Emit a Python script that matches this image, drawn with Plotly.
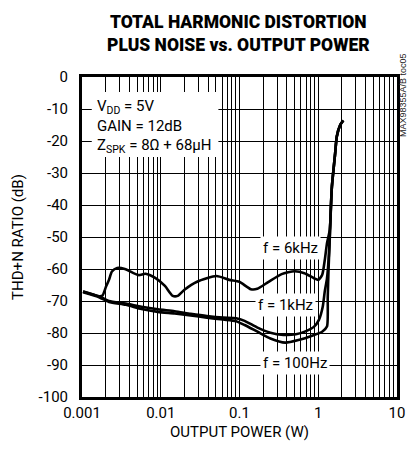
import plotly.graph_objects as go

# ---- data ----
p_6k = [0.00103, 0.00167, 0.00182, 0.00202, 0.0022, 0.0024, 0.0028, 0.0035, 0.0052, 0.0064,
        0.0085, 0.0113, 0.0142, 0.0164, 0.020, 0.0289, 0.051, 0.074, 0.0995, 0.139,
        0.168, 0.234, 0.343, 0.50, 0.667, 0.886, 1.0, 1.12, 1.21, 1.29,
        1.40, 1.49, 1.64, 1.72, 1.90, 2.08]
thd_6k = [-67.0, -68.5, -68.3, -65.5, -63.4, -60.8, -59.7, -60.0, -61.9, -61.5,
          -62.8, -65.3, -68.4, -68.4, -66.5, -64.0, -62.2, -63.4, -64.0, -66.3,
          -66.2, -64.0, -61.6, -60.7, -61.3, -62.9, -63.4, -61.9, -57.2, -52.0,
          -47.8, -34.3, -23.8, -18.6, -15.0, -13.6]

p_1k = [0.00103, 0.00167, 0.0022, 0.0036, 0.0057, 0.0092, 0.015, 0.024, 0.0385, 0.062,
        0.0905, 0.116, 0.169, 0.247, 0.36, 0.52, 0.70, 0.886, 1.02, 1.14,
        1.21, 1.29, 1.37, 1.45, 1.49, 1.64, 1.72, 1.90, 2.08]
thd_1k = [-67.0, -68.6, -70.0, -70.8, -71.8, -72.6, -73.2, -74.0, -74.7, -75.2,
          -75.4, -76.2, -78.3, -79.9, -80.6, -80.4, -79.4, -78.0, -75.9, -71.8,
          -67.0, -63.0, -55.0, -40.0, -34.3, -23.8, -18.6, -15.0, -13.6]

p_100 = [0.00103, 0.00167, 0.0022, 0.0036, 0.0057, 0.0092, 0.015, 0.024, 0.0385, 0.062,
         0.0905, 0.116, 0.169, 0.247, 0.38, 0.56, 0.886, 1.12, 1.29, 1.32,
         1.35, 1.40, 1.45, 1.49, 1.64, 1.72, 1.90, 2.08]
thd_100 = [-67.3, -68.9, -70.3, -71.2, -72.5, -73.4, -73.9, -74.5, -75.2, -75.8,
           -76.3, -77.5, -79.6, -81.7, -83.0, -82.2, -80.6, -79.6, -78.0, -68.7,
           -60.3, -50.5, -40.0, -34.3, -23.8, -18.6, -15.0, -13.6]

x_tickvals = [m * 10 ** e for e in range(-3, 1) for m in range(1, 10)] + [10]
x_ticktext = [("0.001", "0.01", "0.1", "1")[i // 9] if i % 9 == 0 else "" for i in range(36)] + ["10"]
y_tickvals = [0, -10, -20, -30, -40, -50, -60, -70, -80, -90, -100]
y_ticktext = ["0", "-10", "-20", "-30", "-40", "-50", "-60", "-70", "-80", "-90", "-100"]

FONT = "Roboto, Liberation Sans, sans-serif"

fig = go.Figure()
for xs, ys, name in [(p_6k, thd_6k, "6kHz"), (p_1k, thd_1k, "1kHz"), (p_100, thd_100, "100Hz")]:
    fig.add_trace(go.Scatter(x=xs, y=ys, mode="lines", name=name,
                             line=dict(color="black", width=2.6, shape="spline", smoothing=0.6),
                             showlegend=False))

fig.update_layout(
    width=415, height=453,
    margin=dict(l=82, r=10, t=77, b=56),
    paper_bgcolor="white", plot_bgcolor="white",
    font=dict(family=FONT, color="black", size=15),
)
fig.update_xaxes(type="log", range=[-3, 1], tickvals=x_tickvals, ticktext=x_ticktext,
                 showgrid=True, gridcolor="black", gridwidth=1, ticks="",
                 showline=True, linecolor="black", linewidth=3, mirror=True,
                 zeroline=False, tickfont=dict(size=15),
                 title=dict(text="OUTPUT POWER (W)", font=dict(size=15), standoff=6))
fig.update_yaxes(range=[-100, 0], tickvals=y_tickvals, ticktext=y_ticktext,
                 showgrid=True, gridcolor="black", gridwidth=1, ticks="",
                 showline=True, linecolor="black", linewidth=3, mirror=True,
                 zeroline=False, tickfont=dict(size=15), ticklabelstandoff=8,
                 title=dict(text="THD+N RATIO (dB)", font=dict(size=15), standoff=12))

# title
fig.add_annotation(xref="paper", yref="paper", x=(242 - 82) / 323, y=(397 - 33) / 320,
                   xanchor="center", yanchor="middle", showarrow=False,
                   text="<b>TOTAL HARMONIC DISTORTION<br>PLUS NOISE vs. OUTPUT POWER</b>",
                   font=dict(size=17.5, family="Roboto Black, Roboto, Liberation Sans, sans-serif"))

# white box behind conditions text
fig.add_shape(type="rect", xref="paper", yref="paper", x0=0.031, x1=0.433, y0=0.75, y1=0.953,
              fillcolor="white", line=dict(width=0), layer="above")
fig.add_annotation(xref="paper", yref="paper", x=0.04, y=0.945, xanchor="left", yanchor="top",
                   align="left", showarrow=False, font=dict(size=15),
                   text="V<sub>DD</sub> = 5V<br>GAIN = 12dB<br>Z<sub>SPK</sub> = 8Ω + 68µH")

for txt, xp, yp in [("f = 6kHz", 296, 248), ("f = 1kHz", 291, 305), ("f = 100Hz", 300, 363)]:
    fig.add_annotation(xref="paper", yref="paper", x=(xp - 82) / 323, y=(397 - yp) / 320,
                       xanchor="center", yanchor="middle", showarrow=False, text=txt,
                       bgcolor="white", borderpad=2, font=dict(size=15))

# vertical file tag at the right edge
fig.add_annotation(xref="paper", yref="paper", x=1.0, y=(397 - 95) / 320,
                   xanchor="left", yanchor="middle", xshift=0, showarrow=False, textangle=-90,
                   borderpad=0, text="MAX98355A/B toc05",
                   font=dict(size=9, color="#222222", family="Liberation Sans, sans-serif"))

fig.write_html("out.html", config={"displayModeBar": False},
               post_script="document.body.style.margin='0px';")
